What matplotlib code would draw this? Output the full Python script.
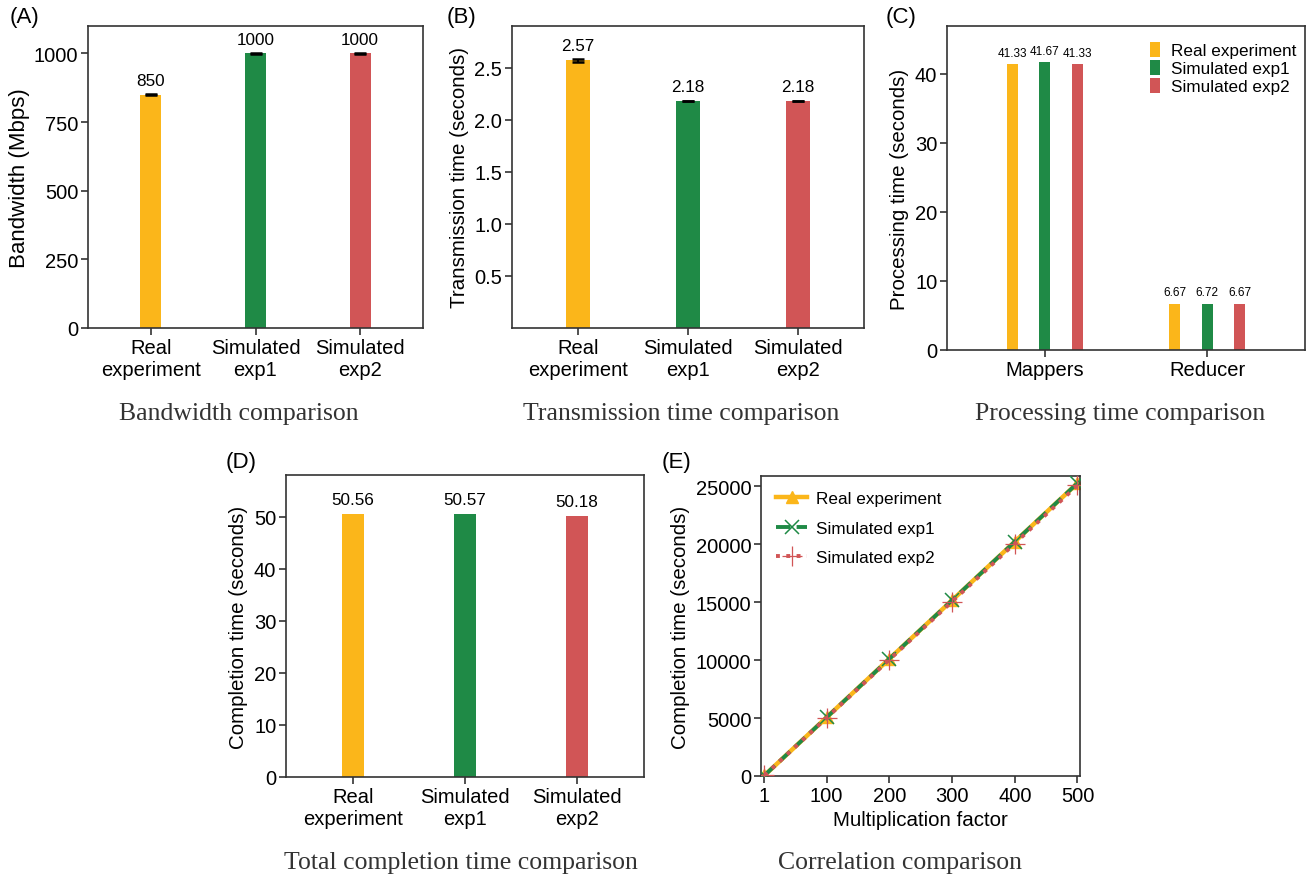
import matplotlib.pyplot as plt
from matplotlib.patches import Patch

# data
systems = ["Real\nexperiment", "Simulated\nexp1", "Simulated\nexp2"]
series_names = ["Real experiment", "Simulated exp1", "Simulated exp2"]
bandwidth = [850, 1000, 1000]
bandwidth_err = [3, 2, 2]
transmission = [2.57, 2.18, 2.18]
transmission_err = [0.012, 0.004, 0.004]
stages = ["Mappers", "Reducer"]
processing = {
    "Real experiment": [41.33, 6.67],
    "Simulated exp1": [41.67, 6.72],
    "Simulated exp2": [41.33, 6.67],
}
completion = [50.56, 50.57, 50.18]
factors = [1, 100, 200, 300, 400, 500]
corr_real = [50.56, 5056, 10112, 15168, 20224, 25280]
corr_sim1 = [50.57, 5057, 10114, 15171, 20228, 25285]
corr_sim2 = [50.18, 5018, 10036, 15054, 20072, 25090]

COLORS = ["#FBB61A", "#1F8A46", "#D15556"]
SPINE = "#333333"
TICK_FS = 14.5
LABEL_FS = 14.8

plt.rcParams['font.family'] = ['Liberation Sans', 'DejaVu Sans']
plt.rcParams['font.size'] = 13

W, H = 1314, 879
fig = plt.figure(figsize=(W / 100, H / 100), dpi=100)


def make_ax(left, top, right, bottom):
    ax = fig.add_axes([left / W, 1 - bottom / H, (right - left) / W, (bottom - top) / H])
    for s in ax.spines.values():
        s.set_color(SPINE)
        s.set_linewidth(1.2)
    ax.tick_params(axis='both', labelsize=TICK_FS, length=5, width=1.2, color=SPINE,
                   pad=2)
    return ax


def subtitle(x, y, text):
    fig.text(x / W, 1 - y / H, text, family=['Liberation Serif', 'DejaVu Serif'],
             fontsize=18.5, color="#333333", ha='center', va='center')


def panel_label(x, y, text):
    fig.text(x / W, 1 - y / H, text, fontsize=16, ha='left', va='center')


def simple_bars(ax, values, errs, fmt, width=0.2, fs=12.3):
    xs = range(len(values))
    ax.bar(xs, values, width=width, color=COLORS, zorder=2)
    if errs is not None:
        ax.errorbar(xs, values, yerr=errs, fmt='none', ecolor='black',
                    capsize=4, elinewidth=1.5, capthick=1.8, zorder=3)
    for x, v in zip(xs, values):
        ax.annotate(fmt.format(v), (x, v), xytext=(0, 5), textcoords='offset points',
                    ha='center', va='bottom', fontsize=fs)
    ax.set_xticks(list(xs))
    ax.set_xticklabels(systems)
    ax.set_xlim(-0.6, 2.6)


# (A) bandwidth
ax = make_ax(88, 27, 423, 329)
simple_bars(ax, bandwidth, bandwidth_err, "{:.0f}")
ax.set_ylim(0, 1100)
ax.set_yticks([0, 250, 500, 750, 1000])
ax.set_ylabel("Bandwidth (Mbps)", fontsize=16, labelpad=3)
panel_label(10, 18, "(A)")
subtitle(239, 414, "Bandwidth comparison")

# (B) transmission time
ax = make_ax(512, 27, 864, 329)
simple_bars(ax, transmission, transmission_err, "{:.2f}", width=0.21)
ax.set_ylim(0, 2.9)
ax.set_yticks([0.5, 1.0, 1.5, 2.0, 2.5])
ax.set_ylabel("Transmission time (seconds)", fontsize=LABEL_FS)
panel_label(447, 18, "(B)")
subtitle(681, 414, "Transmission time comparison")

# (C) processing time
ax = make_ax(947, 27, 1305, 351)
offsets = [-0.2, 0.0, 0.2]
for (name, vals), off, col in zip(processing.items(), offsets, COLORS):
    xs = [i + off for i in range(len(stages))]
    ax.bar(xs, vals, width=0.067, color=col, zorder=2)
    for x, v in zip(xs, vals):
        ax.annotate("{:.2f}".format(v), (x, v), xytext=(0, 4), textcoords='offset points',
                    ha='center', va='bottom', fontsize=8.5)
ax.set_xticks(range(len(stages)))
ax.set_xticklabels(stages)
ax.set_xlim(-0.6, 1.6)
ax.set_ylim(0, 46.9)
ax.set_yticks([0, 10, 20, 30, 40])
ax.set_ylabel("Processing time (seconds)", fontsize=LABEL_FS)
handles = [Patch(facecolor=c, label=n) for c, n in zip(COLORS, series_names)]
ax.legend(handles=handles, loc='upper right', frameon=False, fontsize=12.3,
          handlelength=0.6, handleheight=1.0, handletextpad=0.65, labelspacing=0.08,
          borderaxespad=0.2, borderpad=0.3, bbox_to_anchor=(1.0, 0.977))
panel_label(886, 18, "(C)")
subtitle(1120, 414, "Processing time comparison")

# (D) total completion time
ax = make_ax(286, 476, 644, 778)
simple_bars(ax, completion, None, "{:.2f}")
ax.set_ylim(0, 58)
ax.set_yticks([0, 10, 20, 30, 40, 50])
ax.set_ylabel("Completion time (seconds)", fontsize=LABEL_FS)
panel_label(226, 463, "(D)")
subtitle(461, 863, "Total completion time comparison")

# (E) correlation
ax = make_ax(761, 477, 1080, 777)
ax.plot(factors, corr_real, '-', color=COLORS[0], lw=3.2, marker='^', ms=9,
        label=series_names[0], zorder=2)
ax.plot(factors, corr_sim1, '--', color=COLORS[1], lw=2.8, marker='x', ms=10,
        mew=1.1, label=series_names[1], zorder=3)
ax.plot(factors, corr_sim2, ':', color=COLORS[2], lw=2.8, marker='+', ms=14,
        mew=0.9, label=series_names[2], zorder=4)
ax.set_xlim(-4.5, 504)
ax.set_ylim(0, 25900)
ax.set_xticks(factors)
ax.set_yticks([0, 5000, 10000, 15000, 20000, 25000])
ax.set_xlabel("Multiplication factor", fontsize=LABEL_FS, labelpad=4)
ax.set_ylabel("Completion time (seconds)", fontsize=LABEL_FS)
ax.legend(loc='upper left', frameon=False, fontsize=12.3, handlelength=1.8,
          handletextpad=0.5, labelspacing=0.85)
panel_label(662, 463, "(E)")
subtitle(900, 863, "Correlation comparison")

fig.savefig("out.png", dpi=100)
